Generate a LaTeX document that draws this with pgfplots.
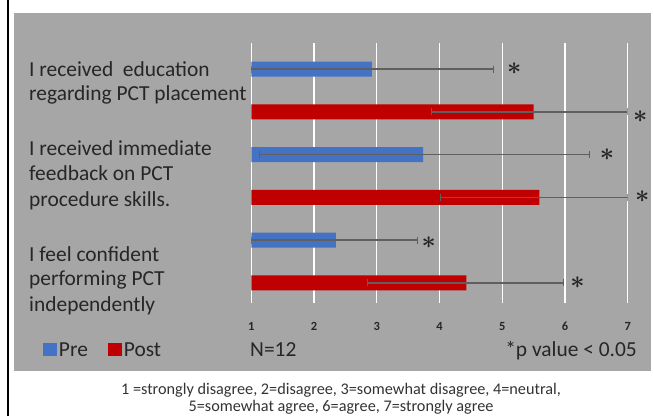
\documentclass[border=0pt]{standalone}
\usepackage{pgfplots}
\pgfplotsset{compat=1.18}
\usepackage{fontspec}
\setmainfont{Carlito}
\definecolor{panel}{HTML}{A6A6A6}
\definecolor{preblue}{HTML}{4472C4}
\definecolor{postred}{HTML}{C00000}
\definecolor{txt}{HTML}{262626}
\definecolor{errc}{HTML}{5F5F5F}
\definecolor{note}{HTML}{333333}
\pgfplotsset{
  base/.style={
    at={(251.3bp,113bp)}, anchor=south west,
    scale only axis, width=376.4bp, height=260bp,
    xmin=1, xmax=7, ymin=-0.61, ymax=5.47, y dir=reverse,
  },
  ebar/.style={
    error bars/.cd, x dir=both, x explicit, error mark=|,
    error bar style={errc, line width=1.6bp},
    error mark options={errc, mark size=3.5bp, line width=1bp},
  },
}
\begin{document}
\begin{tikzpicture}[x=1bp,y=1bp]
% frame and panel
\draw[black, line width=2bp] (8,0) -- (8,416);
\fill[panel] (14,45) rectangle (651,403.3);
\begin{axis}[
  base,
  axis line style={draw=none},
  xtick={1,2,3,4,5,6,7}, ytick=\empty,
  major tick length=0pt,
  xmajorgrids, major grid style={white, line width=1.4bp},
  /pgf/number format/assume math mode=true,
  xticklabel style={anchor=base, yshift=-27bp, font=\fontsize{12.5}{12.5}\selectfont\bfseries, text=txt},
  legend style={at={(-0.5534,-0.1808)}, anchor=west, draw=none, fill=none,
    inner sep=0pt, outer sep=0pt, font=\fontsize{21.5}{24}\selectfont, text=txt,
    nodes={inner xsep=2bp, inner ysep=0pt}},
  legend columns=2,
  /tikz/every even column/.append style={column sep=18bp},
  legend image code/.code={\fill[#1] (0bp,-6bp) rectangle (14bp,7bp);},
]
\addplot[xbar, bar shift=0pt, bar width=15bp, fill=preblue, draw=none, ebar]
  table[x=x, y=y, x error plus=ep, x error minus=em] {
  y x ep em
  0 2.92 1.94 1.92
  2 3.74 2.65 2.61
  4 2.35 1.30 1.35
};
\addlegendentry{Pre}
\addplot[xbar, bar shift=0pt, bar width=15bp, fill=postred, draw=none, ebar]
  table[x=x, y=y, x error plus=ep, x error minus=em] {
  y x ep em
  1 5.50 1.49 1.62
  3 5.59 1.41 1.57
  5 4.43 1.55 1.58
};
\addlegendentry{Post}
\end{axis}
% significance asterisks (overlay axis with the same geometry, unclipped)
\begin{axis}[base, hide axis, clip=false]
\addplot[draw=none, mark=none,
  nodes near coords={$\ast$},
  every node near coord/.append style={anchor=center, inner sep=0pt,
    font=\fontsize{24}{24}\selectfont\boldmath, text=txt}]
  coordinates {(5.19,-0.02) (7.20,1.12) (6.67,2.0) (7.23,2.98) (3.83,4.07) (6.20,5.0)};
\end{axis}
% category labels
\begin{scope}[every node/.style={anchor=base west, inner sep=0pt, text=txt, font=\fontsize{21.5}{24}\selectfont}]
\node at (29,339.3) {I received\ \ education};
\node at (29,315.3) {regarding PCT placement};
\node at (29,261) {I received immediate};
\node at (29,235.3) {feedback on PCT};
\node at (29,210) {procedure skills.};
\node at (29,155) {I feel confident};
\node at (29,130.3) {performing PCT};
\node at (29,105) {independently};
\node at (250,59.3) {N=12};
\node[anchor=base east] at (637,59.3) {*p value < 0.05};
\end{scope}
\node[anchor=base, inner sep=0pt, text=note, font=\fontsize{16.3}{18}\selectfont] at (341,22) {1 =strongly disagree, 2=disagree, 3=somewhat disagree, 4=neutral,};
\node[anchor=base, inner sep=0pt, text=note, font=\fontsize{16.3}{18}\selectfont] at (341,5) {5=somewhat agree, 6=agree, 7=strongly agree};
\pgfresetboundingbox
\useasboundingbox (0,0) rectangle (654,416);
\end{tikzpicture}
\end{document}
